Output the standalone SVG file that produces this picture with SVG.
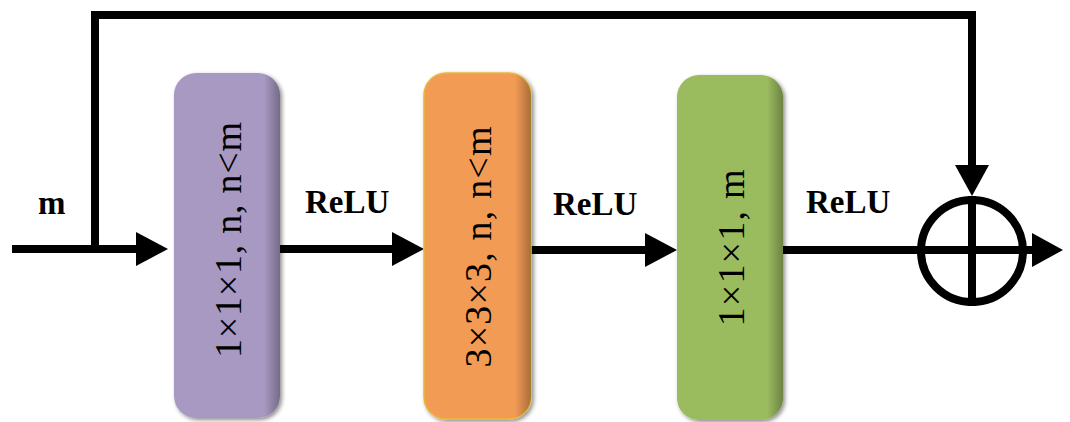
<svg xmlns="http://www.w3.org/2000/svg" width="1070" height="422" viewBox="0 0 1070 422">
<style>
.ln{fill:none;stroke:#000;stroke-width:8;stroke-linejoin:miter;stroke-linecap:butt}
.ah{fill:#000}
.lbl{font-family:"Liberation Serif","Times New Roman",serif;font-weight:bold;font-size:33px;fill:#000}
.bt{font-family:"Liberation Serif","Times New Roman",serif;font-size:38px;fill:#000;text-anchor:middle;dominant-baseline:central}
</style>
<defs>
<filter id="sh" x="-20%" y="-10%" width="140%" height="120%">
<feDropShadow dx="2" dy="2" stdDeviation="2" flood-color="#000" flood-opacity="0.45"/>
</filter>
<linearGradient id="edge" x1="0" y1="0" x2="1" y2="0">
<stop offset="0.85" stop-color="#000" stop-opacity="0"/>
<stop offset="1" stop-color="#000" stop-opacity="0.3"/>
</linearGradient>
</defs>
<g id="connectors">
<path class="ln" d="M12 249 H140"/>
<polygon class="ah" points="168,249 136,232 136,266"/>
<path class="ln" d="M95 249 V15 H972 V170"/>
<polygon class="ah" points="972,196 955,165 989,165"/>
<path class="ln" d="M280 249 H396"/>
<polygon class="ah" points="424,249 392,232 392,266"/>
<path class="ln" d="M531 250 H649"/>
<polygon class="ah" points="677,250 645,233 645,267"/>
<path class="ln" d="M783 250 H921"/>
<path class="ln" d="M1023 250 H1036"/>
<polygon class="ah" points="1063,250 1032,233 1032,267"/>
</g>
<g id="node-sum">
<circle cx="972" cy="251" r="51" fill="none" stroke="#000" stroke-width="8"/>
<path class="ln" d="M921 250 H1023 M972 196 V306"/>
</g>
<g id="node-conv1">
<rect x="174" y="73" width="106" height="345" rx="22" fill="#a899c2" filter="url(#sh)"/>
<rect x="174" y="73" width="106" height="345" rx="22" fill="url(#edge)"/>
<text class="bt" transform="translate(228 240) rotate(-90)" textLength="236" lengthAdjust="spacing">1×1×1, n, n&lt;m</text>
</g>
<g id="node-conv2">
<rect x="424" y="73" width="107" height="346" rx="22" fill="#f29b55" stroke="#e8b83a" stroke-width="1.5" filter="url(#sh)"/>
<rect x="424" y="73" width="107" height="346" rx="22" fill="url(#edge)"/>
<text class="bt" transform="translate(478 247) rotate(-90)" textLength="241" lengthAdjust="spacing">3×3×3, n, n&lt;m</text>
</g>
<g id="node-conv3">
<rect x="677" y="75" width="106" height="345" rx="22" fill="#9bbb5f" filter="url(#sh)"/>
<rect x="677" y="75" width="106" height="345" rx="22" fill="url(#edge)"/>
<text class="bt" transform="translate(731 248) rotate(-90)" textLength="157" lengthAdjust="spacing">1×1×1, m</text>
</g>
<g id="labels">
<text class="lbl" x="38" y="214">m</text>
<text class="lbl" x="305" y="213">ReLU</text>
<text class="lbl" x="553" y="215">ReLU</text>
<text class="lbl" x="806" y="213">ReLU</text>
</g>
</svg>
